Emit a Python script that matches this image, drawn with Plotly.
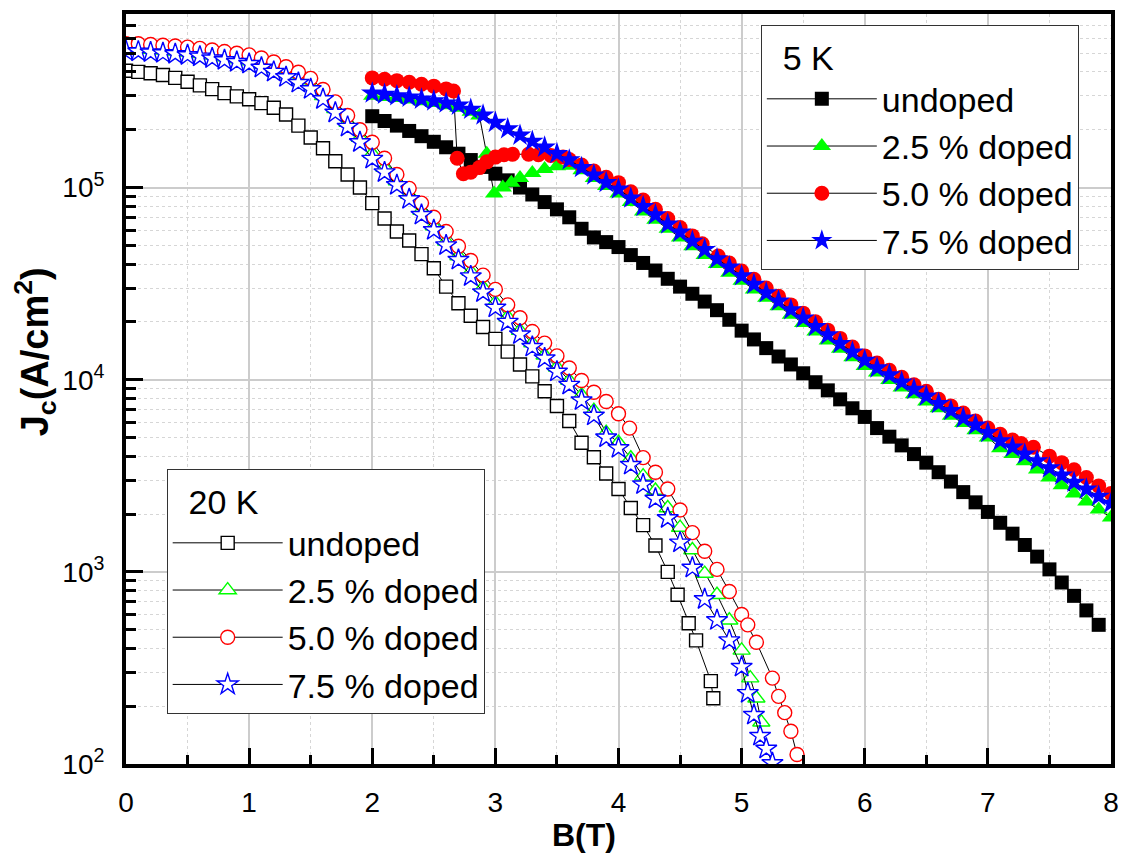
import math
import plotly.graph_objects as go

# ---------------- 5 K data ----------------
B_5K_undoped = [2.0, 2.1, 2.2, 2.3, 2.4, 2.5, 2.6, 2.7, 2.8, 2.9,
                3.0, 3.1, 3.2, 3.3, 3.4, 3.5, 3.6, 3.7, 3.8, 3.9,
                4.0, 4.1, 4.2, 4.3, 4.4, 4.5, 4.6, 4.7, 4.8, 4.9,
                5.0, 5.1, 5.2, 5.3, 5.4, 5.5, 5.6, 5.7, 5.8, 5.9,
                6.0, 6.1, 6.2, 6.3, 6.4, 6.5, 6.6, 6.7, 6.8, 6.9,
                7.0, 7.1, 7.2, 7.3, 7.4, 7.5, 7.6, 7.7, 7.8, 7.9]
J_5K_undoped = [2.35e5, 2.22e5, 2.1e5, 1.97e5, 1.85e5, 1.73e5, 1.62e5, 1.5e5, 1.39e5, 1.28e5,
                1.18e5, 1.09e5, 1.0e5, 9.2e4, 8.4e4, 7.7e4, 7.0e4, 6.1e4, 5.5e4, 5.2e4,
                4.9e4, 4.45e4, 4.05e4, 3.7e4, 3.35e4, 3.05e4, 2.8e4, 2.55e4, 2.3e4, 2.05e4,
                1.8e4, 1.62e4, 1.46e4, 1.32e4, 1.2e4, 1.08e4, 9.7e3, 8.8e3, 7.9e3, 7.1e3,
                6.4e3, 5.6e3, 5.05e3, 4.55e3, 4.1e3, 3.7e3, 3.3e3, 2.95e3, 2.6e3, 2.3e3,
                2.05e3, 1.8e3, 1.58e3, 1.38e3, 1.2e3, 1.03e3, 8.8e2, 7.5e2, 6.3e2, 5.3e2]

B_5K_25 = [2.0, 2.1, 2.2, 2.3, 2.4, 2.5, 2.6, 2.7, 2.8, 2.87,
           2.93, 2.99, 3.06, 3.13, 3.2, 3.3, 3.4, 3.5, 3.6, 3.7, 3.8, 3.9,
           4.0, 4.1, 4.2, 4.3, 4.4, 4.5, 4.6, 4.7, 4.8, 4.9,
           5.0, 5.1, 5.2, 5.3, 5.4, 5.5, 5.6, 5.7, 5.8, 5.9,
           6.0, 6.1, 6.2, 6.3, 6.4, 6.5, 6.6, 6.7, 6.8, 6.9,
           7.0, 7.1, 7.2, 7.3, 7.4, 7.5, 7.6, 7.7, 7.8, 7.9, 8.0]
J_5K_25 = [3.0e5, 2.96e5, 2.92e5, 2.87e5, 2.81e5, 2.75e5, 2.68e5, 2.6e5, 2.48e5, 2.37e5,
           1.5e5, 9.3e4, 1.0e5, 1.06e5, 1.12e5, 1.19e5, 1.25e5, 1.29e5, 1.3e5, 1.23e5, 1.12e5, 1.02e5,
           9.3e4, 8.4e4, 7.5e4, 6.8e4, 6.1e4, 5.5e4, 4.95e4, 4.45e4, 4.0e4, 3.6e4,
           3.27e4, 2.95e4, 2.67e4, 2.41e4, 2.18e4, 1.97e4, 1.78e4, 1.6e4, 1.45e4, 1.31e4,
           1.18e4, 1.09e4, 9.95e3, 9.1e3, 8.4e3, 7.7e3, 7.1e3, 6.5e3, 5.95e3, 5.45e3,
           5.0e3, 4.4e3, 4.1e3, 3.76e3, 3.41e3, 3.1e3, 2.82e3, 2.56e3, 2.32e3, 2.11e3, 1.92e3]

B_5K_50 = [2.0, 2.1, 2.2, 2.3, 2.4, 2.5, 2.6, 2.66,
           2.69, 2.74, 2.8, 2.87, 2.93, 3.0, 3.07, 3.14, 3.27, 3.35, 3.45, 3.55,
           3.6, 3.7, 3.8, 3.9, 4.0, 4.1, 4.2, 4.3, 4.4, 4.5, 4.6, 4.68, 4.81, 4.9,
           5.0, 5.1, 5.2, 5.3, 5.4, 5.5, 5.6, 5.7, 5.8, 5.9,
           6.0, 6.1, 6.2, 6.3, 6.4, 6.5, 6.6, 6.7, 6.8, 6.9,
           7.0, 7.1, 7.2, 7.27, 7.37, 7.5, 7.6, 7.7, 7.8, 7.9, 8.0]
J_5K_50 = [3.72e5, 3.66e5, 3.6e5, 3.53e5, 3.45e5, 3.37e5, 3.26e5, 3.18e5,
           1.42e5, 1.18e5, 1.2e5, 1.27e5, 1.36e5, 1.44e5, 1.48e5, 1.49e5, 1.49e5, 1.48e5, 1.47e5, 1.44e5,
           1.4e5, 1.31e5, 1.22e5, 1.13e5, 1.06e5, 9.5e4, 8.6e4, 7.7e4, 6.9e4, 6.2e4, 5.6e4, 5.1e4, 4.4e4, 4.05e4,
           3.68e4, 3.33e4, 3.0e4, 2.72e4, 2.45e4, 2.22e4, 2.0e4, 1.81e4, 1.64e4, 1.48e4,
           1.33e4, 1.22e4, 1.12e4, 1.03e4, 9.4e3, 8.7e3, 7.9e3, 7.3e3, 6.7e3, 6.1e3,
           5.6e3, 5.2e3, 4.85e3, 4.65e3, 4.45e3, 4.0e3, 3.7e3, 3.4e3, 3.1e3, 2.8e3, 2.56e3]

B_5K_75 = [2.0, 2.1, 2.2, 2.3, 2.4, 2.5, 2.6, 2.7, 2.8, 2.9,
           3.0, 3.1, 3.2, 3.3, 3.4, 3.5, 3.6, 3.7, 3.8, 3.9,
           4.0, 4.1, 4.2, 4.3, 4.4, 4.5, 4.6, 4.7, 4.8, 4.9,
           5.0, 5.1, 5.2, 5.3, 5.4, 5.5, 5.6, 5.7, 5.8, 5.9,
           6.0, 6.1, 6.2, 6.3, 6.4, 6.5, 6.6, 6.7, 6.8, 6.9,
           7.0, 7.1, 7.2, 7.3, 7.4, 7.5, 7.6, 7.7, 7.8, 7.9, 8.0]
J_5K_75 = [3.1e5, 3.05e5, 3.0e5, 2.95e5, 2.88e5, 2.82e5, 2.75e5, 2.68e5, 2.55e5, 2.38e5,
           2.18e5, 2.02e5, 1.87e5, 1.74e5, 1.62e5, 1.5e5, 1.39e5, 1.27e5, 1.16e5, 1.06e5,
           9.8e4, 8.8e4, 7.95e4, 7.2e4, 6.45e4, 5.85e4, 5.25e4, 4.75e4, 4.25e4, 3.85e4,
           3.47e4, 3.13e4, 2.83e4, 2.56e4, 2.31e4, 2.09e4, 1.89e4, 1.71e4, 1.54e4, 1.39e4,
           1.26e4, 1.15e4, 1.06e4, 9.7e3, 8.9e3, 8.2e3, 7.5e3, 6.9e3, 6.3e3, 5.8e3,
           5.3e3, 4.8e3, 4.45e3, 4.1e3, 3.78e3, 3.47e3, 3.18e3, 2.92e3, 2.69e3, 2.47e3, 2.27e3]

# ---------------- 20 K data ----------------
B_20K_undoped = [0.0, 0.1, 0.2, 0.3, 0.4, 0.5, 0.6, 0.7, 0.8, 0.9,
                 1.0, 1.1, 1.2, 1.3, 1.4, 1.5, 1.6, 1.7, 1.8, 1.9,
                 2.0, 2.1, 2.2, 2.3, 2.4, 2.5, 2.6, 2.7, 2.8, 2.9,
                 3.0, 3.1, 3.2, 3.3, 3.4, 3.5, 3.6, 3.7, 3.8, 3.9,
                 4.0, 4.1, 4.2, 4.3, 4.4, 4.48, 4.57, 4.63, 4.75, 4.77]
J_20K_undoped = [4.05e5, 4.0e5, 3.93e5, 3.85e5, 3.72e5, 3.55e5, 3.4e5, 3.25e5, 3.1e5, 2.98e5,
                 2.88e5, 2.75e5, 2.6e5, 2.4e5, 2.1e5, 1.82e5, 1.6e5, 1.37e5, 1.17e5, 1.0e5,
                 8.3e4, 6.9e4, 5.9e4, 5.3e4, 4.5e4, 3.8e4, 3.05e4, 2.5e4, 2.15e4, 1.88e4,
                 1.63e4, 1.4e4, 1.2e4, 1.04e4, 8.7e3, 7.3e3, 6.1e3, 4.7e3, 3.95e3, 3.25e3,
                 2.7e3, 2.15e3, 1.75e3, 1.37e3, 1.0e3, 7.6e2, 5.4e2, 4.4e2, 2.7e2, 2.2e2]

B_20K_25 = [0.0, 0.1, 0.2, 0.3, 0.4, 0.5, 0.6, 0.7, 0.8, 0.9,
            1.0, 1.1, 1.2, 1.3, 1.4, 1.5, 1.6, 1.7, 1.8, 1.9,
            2.0, 2.1, 2.2, 2.3, 2.4, 2.5, 2.6, 2.7, 2.8, 2.9,
            3.0, 3.1, 3.2, 3.3, 3.4, 3.5, 3.6, 3.7, 3.8, 3.9,
            4.0, 4.1, 4.2, 4.3, 4.4, 4.5, 4.6, 4.7, 4.8, 4.9,
            5.0, 5.07, 5.12, 5.16]
J_20K_25 = [5.3e5, 5.28e5, 5.23e5, 5.18e5, 5.12e5, 5.05e5, 4.97e5, 4.87e5, 4.77e5, 4.66e5,
            4.55e5, 4.36e5, 4.15e5, 3.9e5, 3.63e5, 3.37e5, 3.0e5, 2.57e5, 2.18e5, 1.82e5,
            1.5e5, 1.27e5, 1.08e5, 9.2e4, 7.6e4, 6.3e4, 5.25e4, 4.4e4, 3.65e4, 3.02e4,
            2.52e4, 2.12e4, 1.8e4, 1.55e4, 1.34e4, 1.16e4, 9.9e3, 8.3e3, 6.9e3, 5.3e3,
            4.7e3, 3.9e3, 3.15e3, 2.65e3, 2.15e3, 1.7e3, 1.3e3, 9.8e2, 7.6e2, 5.6e2,
            3.9e2, 2.8e2, 2.2e2, 1.65e2]

B_20K_50 = [0.0, 0.1, 0.2, 0.3, 0.4, 0.5, 0.6, 0.7, 0.8, 0.9,
            1.0, 1.1, 1.2, 1.3, 1.4, 1.5, 1.6, 1.7, 1.8, 1.9,
            2.0, 2.1, 2.2, 2.3, 2.4, 2.5, 2.6, 2.7, 2.8, 2.9,
            3.0, 3.1, 3.2, 3.3, 3.4, 3.5, 3.6, 3.7, 3.8, 3.9,
            4.0, 4.09, 4.2, 4.3, 4.4, 4.5, 4.6, 4.7, 4.8, 4.9,
            5.0, 5.05, 5.12, 5.25, 5.3, 5.35, 5.4, 5.45]
J_20K_50 = [5.6e5, 5.6e5, 5.55e5, 5.5e5, 5.45e5, 5.38e5, 5.3e5, 5.2e5, 5.1e5, 5.0e5,
            4.9e5, 4.72e5, 4.5e5, 4.25e5, 3.98e5, 3.7e5, 3.24e5, 2.79e5, 2.37e5, 2.0e5,
            1.72e5, 1.42e5, 1.17e5, 9.9e4, 8.3e4, 7.0e4, 5.9e4, 4.95e4, 4.17e4, 3.5e4,
            2.95e4, 2.45e4, 2.1e4, 1.78e4, 1.55e4, 1.33e4, 1.15e4, 9.9e3, 8.6e3, 7.7e3,
            6.65e3, 5.6e3, 3.93e3, 3.3e3, 2.7e3, 2.1e3, 1.6e3, 1.28e3, 1.03e3, 7.9e2,
            6.0e2, 5.3e2, 4.3e2, 2.8e2, 2.25e2, 1.85e2, 1.48e2, 1.12e2]

B_20K_75 = [0.0, 0.1, 0.2, 0.3, 0.4, 0.5, 0.6, 0.7, 0.8, 0.9,
            1.0, 1.1, 1.2, 1.3, 1.4, 1.5, 1.6, 1.7, 1.8, 1.9,
            2.0, 2.1, 2.2, 2.3, 2.4, 2.5, 2.6, 2.7, 2.8, 2.9,
            3.0, 3.1, 3.2, 3.3, 3.4, 3.5, 3.6, 3.7, 3.8, 3.9,
            4.0, 4.1, 4.2, 4.3, 4.4, 4.5, 4.6, 4.7, 4.8, 4.9,
            5.0, 5.05, 5.1, 5.15, 5.2, 5.25]
J_20K_75 = [5.12e5, 5.1e5, 5.05e5, 5.0e5, 4.95e5, 4.88e5, 4.8e5, 4.7e5, 4.6e5, 4.5e5,
            4.4e5, 4.2e5, 4.0e5, 3.75e5, 3.5e5, 3.25e5, 2.88e5, 2.45e5, 2.07e5, 1.72e5,
            1.41e5, 1.2e5, 1.03e5, 8.7e4, 7.2e4, 6.0e4, 5.0e4, 4.2e4, 3.45e4, 2.85e4,
            2.37e4, 2.0e4, 1.72e4, 1.48e4, 1.29e4, 1.1e4, 9.4e3, 7.8e3, 6.5e3, 5.0e3,
            4.4e3, 3.6e3, 2.85e3, 2.4e3, 1.9e3, 1.42e3, 1.05e3, 7.2e2, 5.6e2, 4.4e2,
            3.2e2, 2.34e2, 1.8e2, 1.4e2, 1.2e2, 1.01e2]

# ---------------- axis ticks ----------------
x_ticks = [0, 1, 2, 3, 4, 5, 6, 7, 8]
x_minor_ticks = [0.5, 1.5, 2.5, 3.5, 4.5, 5.5, 6.5, 7.5]
y_ticks = [1e2, 1e3, 1e4, 1e5]
y_tick_text = ["10<sup>2</sup>", "10<sup>3</sup>", "10<sup>4</sup>", "10<sup>5</sup>"]
Y_TOP = 8e5

FONT = "Liberation Sans, Arial, sans-serif"
BLACK, GREEN, RED, BLUE = "#000000", "#00ff00", "#ff0000", "#0000ff"

fig = go.Figure()

# 5 K: filled symbols, thin black connecting line
series_5K = [
    ("undoped", B_5K_undoped, J_5K_undoped, "square", BLACK, 14),
    ("2.5 % doped", B_5K_25, J_5K_25, "triangle-up", GREEN, 16),
    ("5.0 % doped", B_5K_50, J_5K_50, "circle", RED, 15),
    ("7.5 % doped", B_5K_75, J_5K_75, "star", BLUE, 17),
]
for name, b, j, sym, col, size in series_5K:
    fig.add_trace(go.Scatter(
        x=b, y=j, name=name, mode="lines+markers", legend="legend",
        line=dict(color="black", width=1),
        marker=dict(symbol=sym, color=col, size=size, line=dict(width=0)),
    ))

# 20 K: hollow-looking symbols (white fill, coloured outline)
series_20K = [
    ("undoped", B_20K_undoped, J_20K_undoped, "square", BLACK, 13),
    ("2.5 % doped", B_20K_25, J_20K_25, "triangle-up", GREEN, 15),
    ("5.0 % doped", B_20K_50, J_20K_50, "circle", RED, 14),
    ("7.5 % doped", B_20K_75, J_20K_75, "star", BLUE, 16),
]
for name, b, j, sym, col, size in series_20K:
    fig.add_trace(go.Scatter(
        x=b, y=j, name=name, mode="lines+markers", legend="legend2",
        line=dict(color="black", width=1),
        marker=dict(symbol=sym, color="white", size=size, line=dict(color=col, width=1.4)),
    ))

grid_major = "#cccccc"
grid_minor = "#d6d6d6"

fig.update_xaxes(
    range=[0, 8], tickvals=x_ticks, ticktext=[str(v) for v in x_ticks],
    ticks="inside", ticklen=16, tickwidth=3, tickcolor="black",
    showline=True, linewidth=4, linecolor="black", mirror=True,
    showgrid=True, gridcolor=grid_major, gridwidth=1.5, zeroline=False,
    tickfont=dict(family=FONT, size=28, color="black"), ticklabelstandoff=10,
    minor=dict(tickvals=x_minor_ticks, ticks="inside", ticklen=9, tickwidth=3,
               tickcolor="black", showgrid=True, gridcolor=grid_minor,
               griddash="dot", gridwidth=1),
)

y_minor_ticks = [k * 10 ** d for d in range(2, 6) for k in range(2, 10) if k * 10 ** d <= Y_TOP]
fig.update_yaxes(
    type="log", range=[2, math.log10(Y_TOP)], tickvals=y_ticks, ticktext=y_tick_text,
    ticks="inside", ticklen=17, tickwidth=3, tickcolor="black",
    showline=True, linewidth=4, linecolor="black", mirror=True,
    showgrid=True, gridcolor=grid_major, gridwidth=1.5, zeroline=False,
    tickfont=dict(family=FONT, size=28, color="black"), ticklabelstandoff=12,
    minor=dict(tickvals=y_minor_ticks, ticks="inside", ticklen=10, tickwidth=3,
               tickcolor="black", showgrid=True, gridcolor=grid_minor,
               griddash="dot", gridwidth=1),
)

legend_style = dict(
    xanchor="left", yanchor="top", bgcolor="white",
    bordercolor="#333333", borderwidth=1,
    font=dict(family=FONT, size=34, color="black"),
    itemwidth=110, tracegroupgap=0,
)
fig.update_layout(
    width=1129, height=854,
    margin=dict(l=126, r=10, t=14, b=90),
    paper_bgcolor="white", plot_bgcolor="white",
    font=dict(family=FONT, color="black"),
    showlegend=True,
    legend=dict(x=0.6445, y=0.9853,
                title=dict(text="&nbsp;&nbsp;5 K", font=dict(family=FONT, size=34)),
                **legend_style),
    legend2=dict(x=0.0413, y=0.3933,
                 title=dict(text="&nbsp;&nbsp;20 K", font=dict(family=FONT, size=34)),
                 **legend_style),
    annotations=[
        dict(text="<b>B(T)</b>", xref="paper", yref="paper", x=0.4653, y=-0.0947,
             xanchor="center", yanchor="middle", showarrow=False,
             font=dict(family=FONT, size=32, color="black")),
        dict(text="<b>J<sub>c</sub>(A/cm<sup>2</sup>)</b>", xref="paper", yref="paper",
             x=-0.0916, y=0.55, xanchor="center", yanchor="middle", textangle=-90,
             showarrow=False, font=dict(family=FONT, size=38, color="black")),
    ],
)

fig.write_html("out.html")
